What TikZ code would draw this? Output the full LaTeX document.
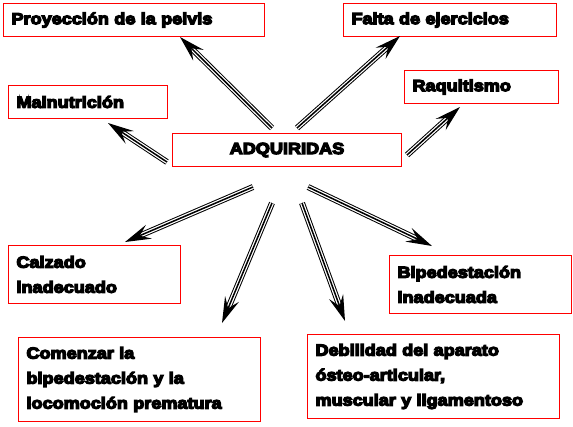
\documentclass[tikz,border=0pt]{standalone}
\usepackage{fontspec}
\usetikzlibrary{arrows.meta}
\newfontfamily\blk{Liberation Sans}[UprightFont=* Bold, FakeStretch=1.13, FakeBold=8]
\begin{document}
\begin{tikzpicture}[x=1pt,y=-1pt,
  box/.style={draw=red, line width=1pt, anchor=north west, inner xsep=8pt, inner ysep=0pt,
    align=left, font=\blk\fontsize{16}{25}\selectfont},
  tri/.style={line width=1.5pt, -{Stealth[length=26pt,width=15pt,inset=10pt]},
    preaction={draw, line width=6pt, shorten >=14pt, -},
    preaction={draw=white, line width=4pt, shorten >=14pt, -}}]
\useasboundingbox[fill=white] (0,0) rectangle (573,426);

\node[box, text width=245pt, minimum height=33pt] (proy) at (3,3) {Proyección de la pelvis};
\node[box, text width=143pt, minimum height=33pt] (maln) at (8,85) {Malnutrición};
\node[box, text width=197pt, minimum height=33pt] (falta) at (343,3) {Falta de ejercicios};
\node[box, text width=138pt, minimum height=33pt] (raq) at (404,70) {Raquitismo};
\node[box, align=center, text width=213pt, minimum height=33pt] (adq) at (172,133) {ADQUIRIDAS};
\node[box, text width=156pt, minimum height=58pt] (calz) at (8,245) {Calzado\\inadecuado};
\node[box, text width=226pt, minimum height=84pt] (com) at (18,337) {Comenzar la\\bipedestación y la\\locomoción prematura};
\node[box, text width=166pt, minimum height=58pt] (biped) at (389,255) {Bipedestación\\inadecuada};
\node[box, text width=236pt, minimum height=84pt] (deb) at (307,334) {Debilidad del aparato\\ósteo-articular,\\muscular y ligamentoso};

\coordinate (t1) at (272,128); \coordinate (h1) at (180,37);
\coordinate (t2) at (167,162); \coordinate (h2) at (108,123);
\coordinate (t3) at (297,128); \coordinate (h3) at (400,36);
\coordinate (t4) at (407,155); \coordinate (h4) at (460,107);
\coordinate (t5) at (253,187); \coordinate (h5) at (125,242);
\coordinate (t6) at (272,203); \coordinate (h6) at (222,323);
\coordinate (t7) at (308,187); \coordinate (h7) at (432,246);
\coordinate (t8) at (302,203); \coordinate (h8) at (345,321);

\foreach \i in {1,...,8} {\draw[tri] (t\i) -- (h\i);}
\end{tikzpicture}
\end{document}
